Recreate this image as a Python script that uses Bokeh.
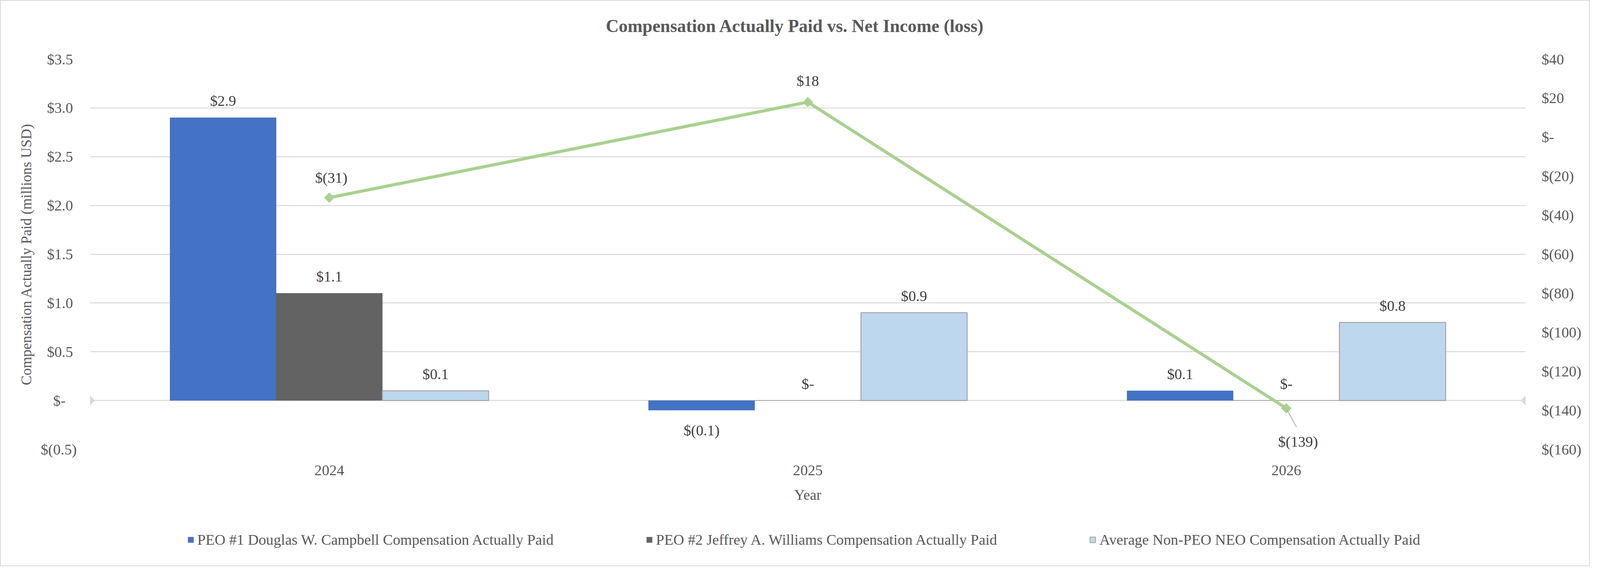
from bokeh.plotting import figure
from bokeh.layouts import column
from bokeh.models import (Range1d, LinearAxis, FixedTicker, ColumnDataSource,
                          Legend, LegendItem)
from bokeh.transform import dodge
from bokeh.core.properties import value
from bokeh.embed import file_html
from bokeh.resources import INLINE
import math

# ---------------- data ----------------
years = [2024, 2025, 2026]
year_labels = ["2024", "2025", "2026"]
peo1 = [2.9, -0.1, 0.1]       # PEO #1 Douglas W. Campbell (millions USD)
peo2 = [1.1, 0.0, 0.0]        # PEO #2 Jeffrey A. Williams
non_peo = [0.1, 0.9, 0.8]     # Average Non-PEO NEO
net_income = [-31, 18, -139]  # Net income (loss), right axis
left_ticks = [-0.5, 0.0, 0.5, 1.0, 1.5, 2.0, 2.5, 3.0, 3.5]
right_ticks = [-160, -140, -120, -100, -80, -60, -40, -20, 0, 20, 40]
series_names = ["PEO #1 Douglas W. Campbell Compensation Actually Paid",
                "PEO #2 Jeffrey A. Williams Compensation Actually Paid",
                "Average Non-PEO NEO Compensation Actually Paid"]
title_text = "Compensation Actually Paid vs. Net Income (loss)"

FONT = "Liberation Serif"
AX_COL = "#595959"
LBL_COL = "#404040"

# ---------------- layout scale ----------------
TOTAL_W, TOTAL_H = 4070, 1450
SX, SY = TOTAL_W / 5040, TOTAL_H / 1493
SF = 0.83  # font scale
BORDER = 2


def X(v):
    return int(round(v * SX))


def Y(v):
    return int(round(v * SY))


def fs(v):
    return f"{v * SF:.1f}px"


def money(v, dec=1, pad=True):
    if abs(v) < 1e-9:
        return "$-" + ("\u2008\u2008\u2008" if pad else "")
    if v < 0:
        return "$(" + f"{abs(v):.{dec}f}" + ")"
    return "$" + f"{v:.{dec}f}" + ("\u2008" if pad else "")


W = TOTAL_W - 2 * BORDER
T = Y(125) - BORDER                # title strip height
SPLIT = Y(1360) - BORDER           # bottom of the chart part
H1 = SPLIT - T
H2 = TOTAL_H - 2 * BORDER - SPLIT  # legend strip height
f_left, f_right = X(285) - BORDER, X(4836) - BORDER
f_top, f_bottom = Y(155) - BORDER - T, Y(1184) - BORDER - T
frame_w = f_right - f_left
frame_h = f_bottom - f_top


def strip(height, x_range, y_range):
    f = figure(width=W, height=height, output_backend="svg",
               toolbar_location=None, x_range=x_range, y_range=y_range,
               min_border=0)
    f.axis.visible = False
    f.grid.grid_line_color = None
    f.outline_line_color = None
    f.background_fill_color = "white"
    f.border_fill_color = "white"
    return f


# ---------------- title strip ----------------
# frames of a column are aligned, so this strip's frame spans f_left..f_right
tf = strip(T, Range1d(f_left, f_right), Range1d(T, 0))
tf.text(x=[X(2520) - BORDER], y=[Y(68) - BORDER], text=[title_text],
        text_font=value(FONT), text_font_size=fs(55),
        text_font_style="bold", text_color=AX_COL,
        text_align="center", text_baseline="middle")

# ---------------- main chart ----------------
p = figure(width=W, height=H1, output_backend="svg", toolbar_location=None,
           x_range=Range1d(years[0] - 0.5, years[-1] + 0.5),
           y_range=Range1d(left_ticks[0], left_ticks[-1]),
           min_border_left=f_left, min_border_right=W - f_right,
           min_border_top=f_top, min_border_bottom=H1 - f_bottom)
p.extra_y_ranges = {"ni": Range1d(right_ticks[0], right_ticks[-1])}
p.outline_line_color = None
p.background_fill_color = "white"
p.border_fill_color = "white"

# grids
p.xgrid.grid_line_color = None
p.ygrid.ticker = FixedTicker(ticks=left_ticks)
p.ygrid.grid_line_color = "#D9D9D9"
p.ygrid.grid_line_width = 2.7

# axes
xa = p.xaxis[0]
xa.ticker = FixedTicker(ticks=years)
xa.major_label_overrides = {y: l for y, l in zip(years, year_labels)}
xa.axis_label = "Year"
ya = p.yaxis[0]
ya.ticker = FixedTicker(ticks=left_ticks)
ya.major_label_overrides = {t: money(t) for t in left_ticks}
ya.axis_label = "Compensation Actually Paid (millions USD)"
ra = LinearAxis(y_range_name="ni", ticker=FixedTicker(ticks=right_ticks))
ra.major_label_overrides = {t: money(t, 0, pad=False) for t in right_ticks}
p.add_layout(ra, "right")
for ax in (xa, ya, ra):
    ax.axis_line_color = None
    ax.major_tick_line_color = None
    ax.minor_tick_line_color = None
    ax.major_tick_in = 0
    ax.major_tick_out = 0
    ax.major_label_text_font = FONT
    ax.major_label_text_font_size = fs(46)
    ax.major_label_text_color = AX_COL
    ax.axis_label_text_font = FONT
    ax.axis_label_text_font_size = fs(45)
    ax.axis_label_text_font_style = "normal"
    ax.axis_label_text_color = AX_COL
xa.major_label_standoff = 41
xa.axis_label_standoff = 27
ya.major_label_standoff = X(42)
ya.axis_label_standoff = X(16)
ra.major_label_standoff = X(51)

# bars
bw = 0.222
offsets = [-bw, 0.0, bw]
colors = ["#4472C4", "#636363", "#BDD7EE"]
outlines = [None, None, "#A5A5A5"]
vals = [peo1, peo2, non_peo]
sources = []
for name, v, off, c, oc in zip(series_names, vals, offsets, colors, outlines):
    src = ColumnDataSource(dict(
        x=years, top=v,
        label=[money(a, 1, pad=False) for a in v],
        yoff=[-Y(44) if a >= 0 else Y(53) for a in v]))
    sources.append(src)
    p.vbar(x=dodge("x", off, range=p.x_range), top="top", bottom=0,
           width=bw, source=src, fill_color=c,
           line_color=oc if oc else c, line_width=2.5 if oc else 0.5)
    p.text(x=dodge("x", off, range=p.x_range), y="top", text="label",
           y_offset="yoff", source=src, text_font=value(FONT),
           text_font_size=fs(46), text_color=LBL_COL,
           text_align="center", text_baseline="middle")

# end markers of the zero line (hidden helper series in the original)
edge_x = [years[0] - 0.5, years[-1] + 0.5]
p.scatter(x=edge_x, y=[0, 0], marker="square", angle=math.pi / 4,
          size=17, fill_color="#D9D9D9", line_color="#D9D9D9")

# net income line
ni_src = ColumnDataSource(dict(
    x=years, y=net_income,
    label=[money(a, 0, pad=False) for a in net_income],
    xoff=[X(6), 0, X(37)], yoff=[-Y(52), -Y(56), Y(88)]))
p.line(x="x", y="y", source=ni_src, y_range_name="ni",
       line_color="#A9D18E", line_width=8)
p.scatter(x="x", y="y", source=ni_src, y_range_name="ni", marker="square",
          angle=math.pi / 4, size=18, fill_color="#A9D18E",
          line_color="#A9D18E")
# leader line of the last label (pixel offsets converted to data units)
px_per_x = frame_w / 3.0
px_per_y = frame_h / 200.0
p.segment(x0=[years[-1] + X(3) / px_per_x],
          y0=[net_income[-1] - Y(4) / px_per_y],
          x1=[years[-1] + X(32) / px_per_x],
          y1=[net_income[-1] - Y(49) / px_per_y],
          y_range_name="ni", line_color="#A6A6A6", line_width=2)
p.text(x="x", y="y", text="label", x_offset="xoff", y_offset="yoff",
       source=ni_src, y_range_name="ni", text_font=value(FONT),
       text_font_size=fs(46), text_color=LBL_COL,
       text_align="center", text_baseline="middle")

# ---------------- legend strip ----------------
lg = strip(H2, p.x_range, Range1d(100, 101))
items = []
for name, src, off, c, oc in zip(series_names, sources, offsets, colors,
                                 outlines):
    # hidden proxies sharing the series' data; only their swatch is drawn
    r = lg.vbar(x=dodge("x", off, range=p.x_range), top="top", bottom=0,
                width=bw, source=src, fill_color=c,
                line_color=oc if oc else c, line_width=2 if oc else 0.5)
    r.visible = False
    items.append(LegendItem(label=name, renderers=[r]))
leg_h = 46 * SF * 1.2
leg_center = Y(1422) - BORDER - SPLIT
legend = Legend(items=items, orientation="horizontal",
                location=(X(593) - BORDER - f_left,
                          int(H2 - leg_center - leg_h / 2)),
                spacing=236, label_standoff=int(10 * SF),
                glyph_width=int(22 * SF), glyph_height=int(22 * SF),
                padding=0, margin=0, click_policy="none",
                border_line_color=None, background_fill_alpha=0,
                label_text_font=FONT, label_text_font_size=fs(46),
                label_text_color=AX_COL)
lg.add_layout(legend, "center")

page = column(tf, p, lg, spacing=0)
page.styles = {"border": f"{BORDER}px solid #D9D9D9"}

open("out.html", "w").write(file_html(page, INLINE))
